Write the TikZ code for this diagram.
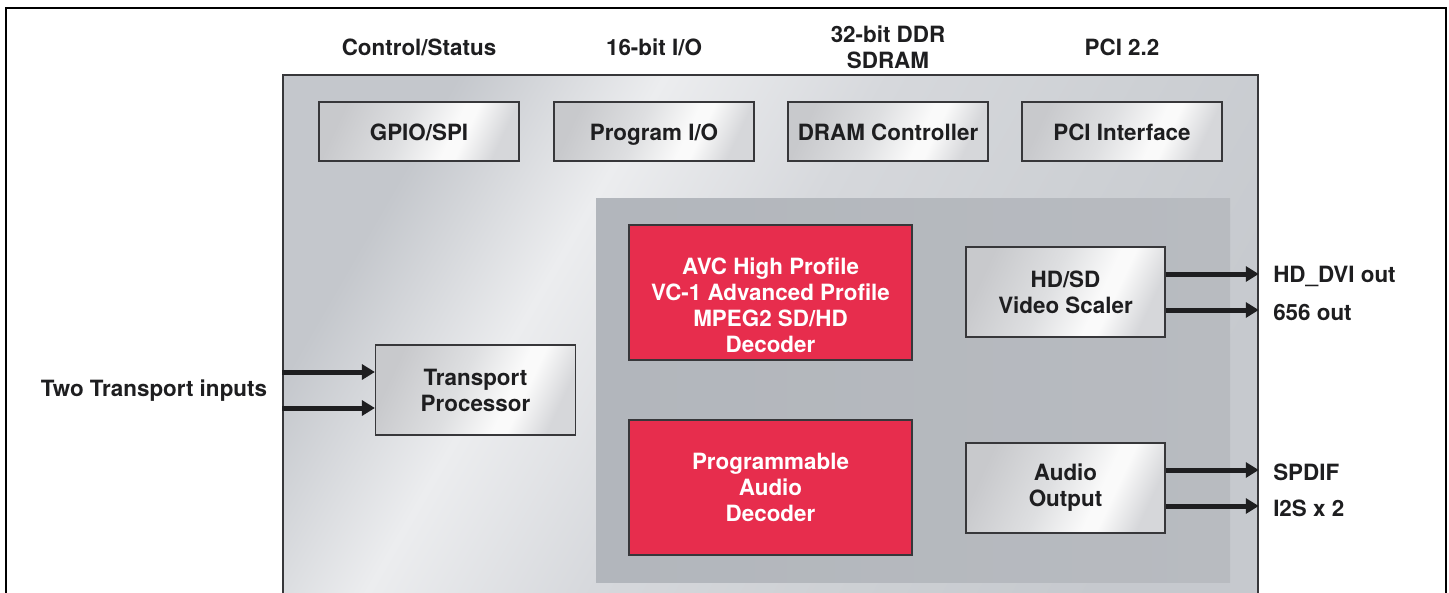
\documentclass[tikz,border=0pt]{standalone}
\usepackage{fontspec}
\setmainfont{TeX Gyre Heros}
\usepackage{tikz}
\usetikzlibrary{arrows.meta, calc}

\definecolor{decred}{RGB}{231,45,77}
\definecolor{edgegray}{RGB}{55,55,58}
\definecolor{inkgray}{RGB}{30,30,32}
\definecolor{chipA}{RGB}{196,199,204}
\definecolor{chipB}{RGB}{236,237,239}
\definecolor{chipC}{RGB}{214,216,220}
\definecolor{chipD}{RGB}{205,208,212}
\definecolor{chipE}{RGB}{198,201,206}
\definecolor{boxA}{RGB}{200,201,204}
\definecolor{boxB}{RGB}{222,223,225}
\definecolor{boxC}{RGB}{250,250,250}
\definecolor{boxD}{RGB}{214,215,218}
\definecolor{coreA}{RGB}{178,182,188}
\definecolor{coreB}{RGB}{164,169,175}
\definecolor{coreC}{RGB}{184,187,192}

\pgfdeclarehorizontalshading{chipsilver}{100bp}{color(0bp)=(chipA); color(25bp)=(chipA);
  color(36bp)=(chipB); color(48bp)=(chipC); color(62bp)=(chipD); color(75bp)=(chipE); color(100bp)=(chipE)}
\pgfdeclarehorizontalshading{boxsilver}{100bp}{color(0bp)=(boxA); color(25bp)=(boxA);
  color(45bp)=(boxB); color(60bp)=(boxC); color(64bp)=(boxC); color(75bp)=(boxD); color(100bp)=(boxD)}

\tikzset{
  every node/.style={font=\fontsize{22.4}{26}\selectfont\bfseries, text=inkgray},
  blk/.style={draw=edgegray, line width=1.2pt, inner sep=0pt, align=center,
    minimum width=200pt, minimum height=59pt, shade, shading=boxsilver, shading angle=-25},
  topblk/.style={blk, text height=19pt, text depth=2pt},
  midblk/.style={blk, minimum height=90pt},
  decblk/.style={draw=edgegray, line width=1.2pt, fill=decred, text=white, inner sep=0pt,
    align=center, minimum width=283pt, minimum height=135pt},
  lbl/.style={align=center, inner sep=0pt},
  outlbl/.style={lbl, anchor=west, xshift=12pt, yshift=-2pt},
  sig/.style={line width=5pt, inkgray, -{Triangle[length=13pt,width=15pt]}},
}

\begin{document}
\begin{tikzpicture}[x=1pt, y=-1pt]
  \clip (0,0) rectangle (1449,592);
  \draw[line width=2.2pt] (6,8) rectangle (1446,620);

  % chip and its darker core
  \node[draw=edgegray, line width=1.5pt, shade, shading=chipsilver, shading angle=-30,
    minimum width=975pt, minimum height=545pt, inner sep=0pt] (chip) at (770.5,347.5) {};
  \node[left color=coreA, middle color=coreB, right color=coreC,
    minimum width=634pt, minimum height=384pt, inner sep=0pt] (core) at (913,390) {};

  % interfaces
  \node[topblk] (gpio) at (419,131.5) {GPIO/SPI};
  \node[topblk] (pio)  at (654,131.5) {Program I/O};
  \node[topblk] (dram) at (888,131.5) {DRAM Controller};
  \node[topblk] (pci)  at (1122,131.5) {PCI Interface};

  \node[lbl] at (gpio.north |- 0,47) {Control/Status};
  \node[lbl] at (pio.north |- 0,47) {16-bit I/O};
  \node[lbl] at (dram.north |- 0,47) {32-bit DDR\\SDRAM};
  \node[lbl] at (pci.north |- 0,47) {PCI 2.2};

  % processing blocks
  \node[midblk] (tp) at (475.5,390) {Transport\\Processor};
  \node[decblk, label={[lbl, text=white, yshift=-13pt]center:AVC High Profile\\VC-1 Advanced Profile\\MPEG2 SD/HD\\Decoder}]
    (avc) at (770.5,292.5) {};
  \node[decblk] (adec) at (770.5,487.5) {Programmable\\Audio\\Decoder};
  \node[midblk, minimum width=199pt] (vsc) at (1065.5,292) {HD/SD\\Video Scaler};
  \node[midblk, minimum width=199pt] (aout) at (1065.5,488) {Audio\\Output};

  % inputs
  \coordinate (tpinA) at ($(tp.west)+(0,-18)$);
  \coordinate (tpinB) at ($(tp.west)+(0,18)$);
  \draw[sig] (chip.west |- tpinA) -- (tpinA);
  \draw[sig] (chip.west |- tpinB) -- (tpinB);
  \node[lbl, anchor=east] (tin) at ($(chip.west |- tp.west)+(-15,1)$) {Two Transport inputs};

  % outputs
  \coordinate (vscA) at ($(vsc.east)+(0,-18)$);
  \coordinate (vscB) at ($(vsc.east)+(0,18)$);
  \coordinate (aoutA) at ($(aout.east)+(0,-18)$);
  \coordinate (aoutB) at ($(aout.east)+(0,18)$);
  \draw[sig] (vscA) -- (chip.east |- vscA) node[outlbl] (dvi) {HD\_DVI out};
  \draw[sig] (vscB) -- (chip.east |- vscB) node[outlbl] (ccir) {656 out};
  \draw[sig] (aoutA) -- (chip.east |- aoutA) node[outlbl] (spdif) {SPDIF};
  \draw[sig] (aoutB) -- (chip.east |- aoutB) node[outlbl] (iis) {I2S x 2};
\end{tikzpicture}
\end{document}
